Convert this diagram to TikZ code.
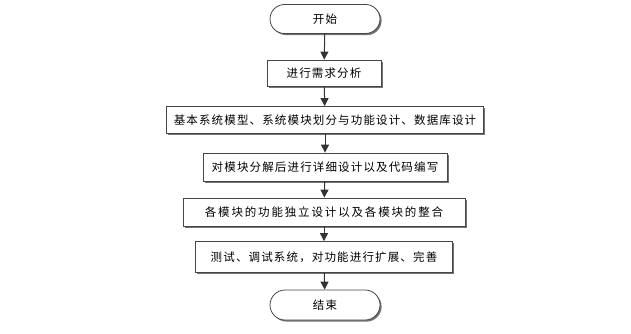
\documentclass[tikz,border=0pt]{standalone}
\usepackage{fontspec}
\setmainfont{Noto Sans CJK SC}
\usepackage{xcolor}
\usepackage{tikz}
\usetikzlibrary{arrows.meta,shadows,shapes.misc}
\definecolor{boxline}{RGB}{70,70,70}

\tikzset{
  stepbox/.style={draw=boxline, line width=0.8pt, fill=white, minimum height=27pt,
    inner sep=2pt, font=\fontsize{11.5}{13}\selectfont\addfontfeature{LetterSpace=10},
    drop shadow={shadow xshift=1.6pt, shadow yshift=-1.6pt, fill=black!55, opacity=1}},
  termbox/.style={stepbox, rounded rectangle, minimum width=114pt, minimum height=29pt},
  flow/.style={line width=1pt, draw=black!80, -{Triangle[length=8pt,width=8pt]}}
}

\begin{document}
\begin{tikzpicture}[x=1pt,y=1pt]
			\useasboundingbox (0,0) rectangle (631,333);
			
			\node[termbox] (start) at (325,314) {开始};
			\node[stepbox, minimum width=114pt, minimum height=26pt] (need) at (324,260) {进行需求分析};
			\node[stepbox, minimum width=317pt] (model) at (325,213) {基本系统模型、系统模块划分与功能设计、数据库设计};
			\node[stepbox, minimum width=244pt, minimum height=28pt] (detail) at (325,166) {对模块分解后进行详细设计以及代码编写};
			\node[stepbox, minimum width=282pt, minimum height=28pt] (merge) at (324,121) {\addfontfeature{LetterSpace=16}各模块的功能独立设计以及各模块的整合};
			\node[stepbox, minimum width=257pt, minimum height=31pt] (test) at (324,76) {测试、调试系统，对功能进行扩展、完善};
			\node[termbox, minimum height=30pt] (stop) at (325,28) {结束};
			
			\draw[flow] (start) -- (need);
			\draw[flow] (need) -- (model);
			\draw[flow] (model) -- (detail);
			\draw[flow] (detail) -- (merge);
			\draw[flow] (merge) -- (test);
			\draw[flow] (test) -- (stop);
		\end{tikzpicture}
\end{document}
